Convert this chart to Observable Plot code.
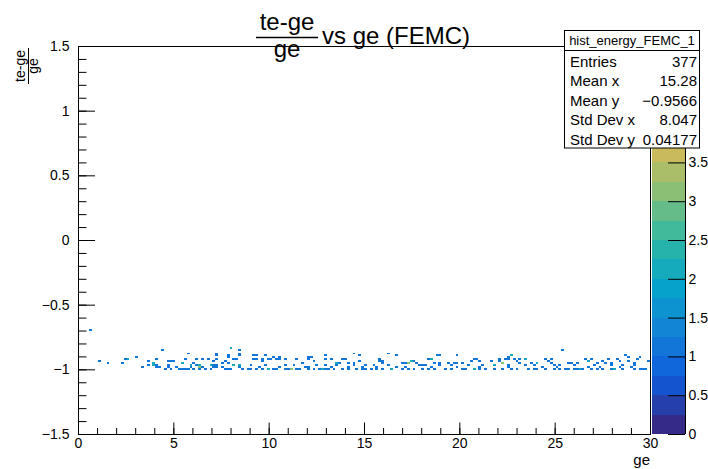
<!DOCTYPE html>
<html><head><meta charset="utf-8">
<script src="https://cdn.jsdelivr.net/npm/d3@7"></script>
<script src="https://cdn.jsdelivr.net/npm/@observablehq/plot@0.6"></script>
<style>
body{margin:0;background:#fff;}
#chart{position:relative;width:708px;height:469px;font-family:"Liberation Sans",Arial,sans-serif;}
#chart svg{position:absolute;left:0;top:0;overflow:visible;}
</style></head><body><div id="chart"></div>
<script>
// ---- histogram binning (ROOT TH2: 200 x 200 bins) ----
const xRange = [0, 30];
const yRange = [-1.5, 1.5];
const xBinWidth = 0.15;
const yBinWidth = 0.015;

// ratio (te-ge)/ge bin centres of the filled rows
const ratioRows = [-0.9975, -0.9825, -0.9675, -0.9525, -0.9375, -0.9225, -0.9075, -0.8925, -0.8775, -0.8475, -0.8325, -0.6975];
// ge values of the entries in each row (repeats = more entries in the bin)
const geRowA = [4.5, 4.8, 5.3, 5.45, 5.6, 5.7, 6.1, 6.3, 6.6, 7.0, 7.7, 7.9, 8.0, 8.6, 8.85, 9.0, 9.3, 9.7, 10.0, 10.0, 10.2, 10.4, 10.8, 10.95, 11.1, 11.1, 11.1, 11.4, 11.6, 12.0, 12.3, 12.6, 12.78, 12.78, 13.0, 13.15, 13.4, 13.8, 14.2, 14.65, 14.85, 15.0, 15.3, 15.6, 16.0, 16.35, 16.35, 16.95, 17.3, 17.6, 18.0, 18.3, 18.7, 19.2, 19.5, 20.1, 20.3, 20.7, 20.8, 21.0, 21.35, 21.8, 22.2, 22.7, 23.0, 23.6, 23.95, 24.05, 24.5, 25.0, 25.3, 25.5, 25.75, 25.95, 26.2, 26.3, 26.3, 26.5, 26.9, 27.2, 27.5, 28.0, 28.1, 28.1, 28.6, 29.1, 29.4, 29.6, 29.8];
const geRowB = [3.3, 4.1, 4.2, 4.72, 5.15, 5.9, 6.31, 6.31, 6.31, 6.5, 7.1, 7.34, 7.5, 8.4, 9.5, 10.6, 11.9, 12.0, 13.3, 14.2, 14.9, 15.7, 16.75, 17.1, 18.5, 19.9, 21.1, 22.6, 24.3, 25.1, 26.7, 27.4, 28.4, 29.0];
const geRowC = [3.64, 3.99, 3.99, 4.16, 4.76, 5.9, 5.9, 6.2, 6.4, 6.4, 6.9, 7.0, 7.1, 7.3, 8.1, 8.1, 8.4, 8.5, 9.1, 9.8, 10.86, 11.3, 12.5, 12.9, 13.6, 14.4, 15.1, 15.55, 16.2, 17.9, 18.1, 18.2, 19.0, 19.6, 20.4, 21.25, 21.8, 21.8, 22.5, 23.4, 23.9, 24.9, 25.3, 26.0, 27.0, 27.9, 28.5, 29.2];
const geRowD = [1.59, 2.26, 3.95, 3.95, 5.52, 5.52, 6.0, 7.6, 7.8, 11.73, 13.5, 13.5, 13.65, 14.1, 14.5, 16.0, 17.0, 17.2, 17.35, 17.35, 17.35, 17.8, 18.6, 18.9, 19.4, 19.7, 19.9, 20.2, 22.2, 22.3, 22.3, 23.1, 23.7, 24.05, 24.05, 24.85, 25.7, 25.9, 26.1, 27.2, 27.7, 27.9, 29.1];
const geRowE = [1.10, 3.64, 4.65, 4.82, 5.0, 7.1, 7.67, 9.6, 12.4, 14.7, 15.85, 15.9, 17.45, 17.45, 17.6, 20.6, 21.0, 21.6, 22.1, 23.0, 24.65, 26.8, 26.8, 27.5, 28.35, 28.9, 29.9];
const geRowF = [2.41, 2.59, 2.59, 4.09, 5.59, 6.2, 6.57, 6.75, 7.22, 8.2, 8.3, 9.17, 9.4, 9.7, 9.9, 10.1, 10.4, 10.6, 10.8, 11.5, 12.1, 13.0, 13.3, 13.9, 14.0, 15.75, 18.3, 18.45, 18.5, 20.8, 20.85, 22.07, 22.4, 22.5, 22.8, 23.1, 23.45, 23.45, 24.5, 24.8, 26.6, 26.9, 27.8, 28.2, 29.3];
const geRowG = [3.06, 7.9, 10.2, 10.56, 12.13, 12.17, 22.6, 28.8, 29.5];
const geRowH = [7.25, 7.85, 8.4, 9.27, 9.4, 9.77, 12.92, 14.75, 16.66, 18.8, 18.93, 19.8, 22.65, 22.65, 28.7];
const geRowI = [5.77, 7.22, 8.46, 14.4, 16.22];
const geRowK = [4.37, 8.4, 25.37];
const geRowL = [7.97, 8.03];
const geRowIso = [0.68];
const geRows = [geRowA, geRowB, geRowC, geRowD, geRowE, geRowF, geRowG, geRowH, geRowI, geRowK, geRowL, geRowIso];

// axis ticks
const xMajor = [0, 5, 10, 15, 20, 25, 30];
const xMinor = d3.range(0, 31, 1);
const yMajor = [-1.5, -1, -0.5, 0, 0.5, 1, 1.5];
const yMinor = d3.range(-15, 16, 1).map(d => d / 10);
const zLevels = d3.range(0, 21).map(d => d * 0.25); // 20 contours 0..5
const zTicks = [0, 0.5, 1, 1.5, 2, 2.5, 3, 3.5];

// stats box
const statsTitle = "hist_energy_FEMC_1";
const statsLabels = ["Entries", "Mean x", "Mean y", "Std Dev x", "Std Dev y"];
const statsValues = ["377", "15.28", "\u22120.9566", "8.047", "0.04177"];

// ROOT kBird palette
const birdR = [0.2082, 0.0592, 0.0780, 0.0232, 0.1802, 0.5301, 0.8186, 0.9956, 0.9764];
const birdG = [0.1664, 0.3599, 0.5041, 0.6419, 0.7178, 0.7492, 0.7328, 0.7862, 0.9832];
const birdB = [0.5293, 0.8684, 0.8385, 0.7914, 0.6425, 0.4662, 0.3499, 0.1968, 0.0539];
const birdStops = birdR.map((r, i) => d3.rgb(r * 255, birdG[i] * 255, birdB[i] * 255).formatHex());
const bird = d3.piecewise(d3.interpolateRgb, birdStops);
const nCont = zLevels.length - 1;
const bandColors = d3.range(nCont).map(i => bird(i / (nCont - 1)));

// ---- fill the histogram ----
const counts = new Map();
ratioRows.forEach((r, ri) => {
  const yi = Math.floor((r - yRange[0]) / yBinWidth + 1e-6);
  geRows[ri].forEach(g => {
    const xi = Math.floor(g / xBinWidth + 1e-6);
    const k = xi + "," + yi;
    counts.set(k, (counts.get(k) || 0) + 1);
  });
});
const cells = Array.from(counts, ([k, n]) => {
  const [xi, yi] = k.split(",").map(Number);
  return {x1: xRange[0] + xi * xBinWidth, x2: xRange[0] + (xi + 1) * xBinWidth,
          y1: yRange[0] + yi * yBinWidth, y2: yRange[0] + (yi + 1) * yBinWidth, n};
});

const W = 708, H = 469;
const mL = 78, mR = 58, mT = 46, mB = 35;
const frameW = W - mL - mR, frameH = H - mT - mB;
const font = '"Liberation Sans", Arial, Helvetica, sans-serif';
const rootFmt = d => String(d).replace("-", "\u2212");

const main = Plot.plot({
  width: W, height: H,
  marginLeft: mL, marginRight: mR, marginTop: mT, marginBottom: mB,
  x: {domain: xRange},
  y: {domain: yRange},
  color: {type: "threshold", domain: zLevels.slice(1, -1), range: bandColors},
  style: {fontFamily: font, fontSize: "14px", background: "transparent", color: "black"},
  marks: [
    Plot.rect(cells, {x1: "x1", x2: "x2", y1: "y1", y2: "y2", fill: "n", shapeRendering: "crispEdges"}),
    Plot.tickX(xMinor, {x: d => d, insetTop: frameH - 6, stroke: "black"}),
    Plot.tickX(xMajor, {x: d => d, insetTop: frameH - 11.5, stroke: "black"}),
    Plot.tickY(yMinor, {y: d => d, insetRight: frameW - 8.5, stroke: "black"}),
    Plot.tickY(yMajor, {y: d => d, insetRight: frameW - 17, stroke: "black"}),
    Plot.frame({stroke: "black", strokeWidth: 1}),
    Plot.axisX(xMajor, {tickSize: 0, tickPadding: 4, fontSize: 14, label: null, tickFormat: rootFmt}),
    Plot.axisY(yMajor, {tickSize: 0, tickPadding: 9, fontSize: 14, label: null, tickFormat: rootFmt})
  ]
});

const bands = d3.range(nCont).map(i => ({lo: zLevels[i], hi: zLevels[i + 1], c: bandColors[i]}));
const cbar = Plot.plot({
  width: W, height: H,
  marginLeft: 652, marginRight: W - 685, marginTop: mT, marginBottom: mB,
  x: {domain: [0, 1], axis: null},
  y: {domain: [zLevels[0], zLevels[zLevels.length - 1]]},
  style: {fontFamily: font, fontSize: "14px", background: "transparent", color: "black"},
  marks: [
    Plot.rect(bands, {x1: 0, x2: 1, y1: "lo", y2: "hi", fill: d => d.c, shapeRendering: "crispEdges"}),
    Plot.tickY(zTicks, {y: d => d, insetLeft: 16, stroke: "black"}),
    Plot.ruleX([1], {stroke: "black"}),
    Plot.axisY(zTicks, {anchor: "right", tickSize: 0, tickPadding: 3, fontSize: 14, label: null, tickFormat: rootFmt})
  ]
});

const root = document.getElementById("chart");
root.appendChild(main);
root.appendChild(cbar);

// ---- titles and stats box ----
const svg = d3.select(root).append("svg").attr("width", W).attr("height", H)
  .style("font-family", font);

// main title:  (te-ge)/ge vs ge (FEMC)
const t = svg.append("g");
t.append("text").attr("x", 287).attr("y", 30).attr("text-anchor", "middle").attr("font-size", 24).text("te-ge");
t.append("line").attr("x1", 256).attr("x2", 318).attr("y1", 37.5).attr("y2", 37.5).attr("stroke", "black").attr("stroke-width", 1.5);
t.append("text").attr("x", 287).attr("y", 57).attr("text-anchor", "middle").attr("font-size", 24).text("ge");
t.append("text").attr("x", 322).attr("y", 44).attr("font-size", 24).text("vs ge (FEMC)");

// y title (rotated fraction)
const yt = svg.append("g").attr("transform", "translate(28,66) rotate(-90)");
yt.append("text").attr("x", 0).attr("y", -3).attr("text-anchor", "middle").attr("font-size", 14).text("te-ge");
yt.append("line").attr("x1", -18).attr("x2", 18).attr("y1", 0.5).attr("y2", 0.5).attr("stroke", "black").attr("stroke-width", 1);
yt.append("text").attr("x", 0).attr("y", 10).attr("text-anchor", "middle").attr("font-size", 14).text("ge");

// x title
svg.append("text").attr("x", 650).attr("y", 465).attr("text-anchor", "end").attr("font-size", 15).text("ge");

// stats box
const sb = svg.append("g");
sb.append("rect").attr("x", 564.5).attr("y", 30.5).attr("width", 135).attr("height", 117.5)
  .attr("fill", "white").attr("stroke", "black").attr("stroke-width", 1);
sb.append("line").attr("x1", 564.5).attr("x2", 699.5).attr("y1", 50.5).attr("y2", 50.5).attr("stroke", "black");
sb.append("text").attr("x", 632).attr("y", 45).attr("text-anchor", "middle").attr("font-size", 13).text(statsTitle);
statsLabels.forEach((l, i) => {
  const y = 66.5 + i * 19.6;
  sb.append("text").attr("x", 570).attr("y", y).attr("font-size", 15).text(l);
  sb.append("text").attr("x", 697).attr("y", y).attr("text-anchor", "end").attr("font-size", 15).text(statsValues[i]);
});
</script></body></html>
